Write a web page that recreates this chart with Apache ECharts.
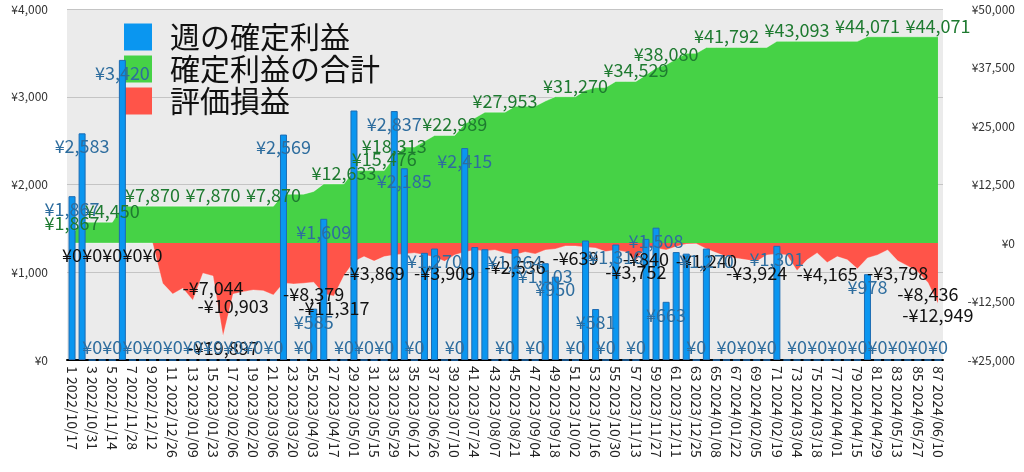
<!DOCTYPE html>
<html>
<head>
<meta charset="utf-8">
<script src="https://cdn.jsdelivr.net/npm/echarts@6/dist/echarts.min.js"></script>
<style>
html,body{margin:0;padding:0;background:#fff;}
#chart{width:1024px;height:472px;}
</style>
</head>
<body>
<div id="chart"></div>
<script>
// Week start dates (categories)
const weeks = [
"2022/10/17","2022/10/24","2022/10/31","2022/11/07","2022/11/14","2022/11/21","2022/11/28","2022/12/05","2022/12/12","2022/12/19",
"2022/12/26","2023/01/02","2023/01/09","2023/01/16","2023/01/23","2023/01/30","2023/02/06","2023/02/13","2023/02/20","2023/02/27",
"2023/03/06","2023/03/13","2023/03/20","2023/03/27","2023/04/03","2023/04/10","2023/04/17","2023/04/24","2023/05/01","2023/05/08",
"2023/05/15","2023/05/22","2023/05/29","2023/06/05","2023/06/12","2023/06/19","2023/06/26","2023/07/03","2023/07/10","2023/07/17",
"2023/07/24","2023/07/31","2023/08/07","2023/08/14","2023/08/21","2023/08/28","2023/09/04","2023/09/11","2023/09/18","2023/09/25",
"2023/10/02","2023/10/09","2023/10/16","2023/10/23","2023/10/30","2023/11/06","2023/11/13","2023/11/20","2023/11/27","2023/12/04",
"2023/12/11","2023/12/18","2023/12/25","2024/01/01","2024/01/08","2024/01/15","2024/01/22","2024/01/29","2024/02/05","2024/02/12",
"2024/02/19","2024/02/26","2024/03/04","2024/03/11","2024/03/18","2024/03/25","2024/04/01","2024/04/08","2024/04/15","2024/04/22",
"2024/04/29","2024/05/06","2024/05/13","2024/05/20","2024/05/27","2024/06/03","2024/06/10"];

// 週の確定利益 (left axis)
const weeklyProfit = [
1867,2583,0,0,0,3420,0,0,0,0,
0,0,0,0,0,0,0,0,0,0,
0,2569,0,0,585,1609,0,0,2843,0,
0,0,2837,2185,0,1221,1270,0,0,2415,
1287,1262,0,0,1264,0,0,1103,950,0,
0,1362,581,0,1316,0,0,1380,1508,663,
1230,1212,0,1270,0,0,0,0,0,0,
1301,0,0,0,0,0,0,0,0,978,
0,0,0,0,0,0,0];

// 確定利益の合計 (right axis)
const cumulativeProfit = [
1867,4450,4450,4450,4450,7870,7870,7870,7870,7870,
7870,7870,7870,7870,7870,7870,7870,7870,7870,7870,
7870,10439,10439,10439,11024,12633,12633,12633,15476,15476,
15476,15476,18313,20498,20498,21719,22989,22989,22989,25404,
26691,27953,27953,27953,29217,29217,29217,30320,31270,31270,
31270,32632,33213,33213,34529,34529,34529,35909,37417,38080,
39310,40522,40522,41792,41792,41792,41792,41792,41792,41792,
43093,43093,43093,43093,43093,43093,43093,43093,43093,44071,
44071,44071,44071,44071,44071,44071,44071];

// 評価損益 (right axis)
const unrealized = [
0,0,0,0,0,0,0,0,0,-8600,
-10890,-9670,-12210,-6460,-7044,-19897,-10903,-10390,-10030,-10200,
-11100,-8530,-8750,-8600,-8379,-10900,-11317,-7000,-3970,-2900,
-3869,-2900,-2550,-2330,-2120,-2550,-2970,-3909,-2550,-1900,
-1480,-1690,-1480,-2120,-2536,-1900,-2330,-1480,-1260,-620,
-639,-900,-1050,-1840,-1480,-1900,-3752,-840,-1050,-1480,
-770,-200,-150,-1240,-2100,-2900,-3250,-3600,-3924,-2550,
-2330,-2550,-5900,-3600,-2120,-4165,-2900,-3600,-5500,-3200,
-2550,-1480,-3798,-4900,-6200,-8436,-12949];

// Axis ticks
const leftTicks = {min:0, max:4000, interval:1000};
const rightTicks = {min:-25000, max:50000, interval:12500};

// Which points carry a visible value label (1-based week numbers)
const barLabelWeeks = [1,2,3,5,6,7,9,11,13,15,17,19,21,22,24,25,26,28,30,32,33,34,35,37,39,40,44,45,47,48,49,51,53,54,55,57,59,60,63,64,66,68,70,71,73,75,77,79,80,81,83,85,87];
const cumLabelWeeks = [1,5,9,15,21,28,32,33,39,44,51,57,60,66,73,80,87];
const unrLabelWeeks = [1,3,5,7,9,15,16,17,25,27,31,38,45,51,57,58,64,69,76,83,86,87];

const FONT = "'Noto Sans CJK JP', sans-serif";
const yen = v => (v < 0 ? '-' : '') + '¥' + Math.abs(v).toLocaleString('en-US');

const barLabelData = weeklyProfit.map((v, i) => ({
  value: v,
  label: {show: barLabelWeeks.includes(i + 1), position: v === 0 ? 'insideBottom' : 'insideTop'}
}));
const cumLabelData = cumulativeProfit.map((v, i) => ({
  value: v, label: {show: cumLabelWeeks.includes(i + 1)}
}));
const unrLabelData = unrealized.map((v, i) => ({
  value: v, label: {show: unrLabelWeeks.includes(i + 1)}
}));

const labelOnly = {
  type: 'line', yAxisIndex: 1, z: 10, symbol: 'circle', symbolSize: 0,
  showSymbol: true, showAllSymbol: true, silent: true,
  lineStyle: {opacity: 0}, tooltip: {show: false}
};

const chart = echarts.init(document.getElementById('chart'));
chart.setOption({
  animation: false,
  textStyle: {fontFamily: FONT},
  grid: {left: 67, right: 81, top: 9, bottom: 112, show: true, backgroundColor: '#ebebeb', borderWidth: 0},
  legend: {
    orient: 'vertical', left: 119, top: 17,
    itemWidth: 28, itemHeight: 27, itemGap: 2,
    icon: 'rect',
    itemStyle: {borderWidth: 0},
    textStyle: {fontSize: 30, color: '#111', fontFamily: FONT, padding: [0, 0, 0, 13], lineHeight: 30},
    data: ['週の確定利益', '確定利益の合計', '評価損益']
  },
  xAxis: {
    type: 'category', data: weeks, boundaryGap: true,
    axisLine: {lineStyle: {color: '#000', width: 2}},
    axisTick: {show: false},
    axisLabel: {rotate: -90, interval: 1, fontSize: 14, color: '#222', margin: 6,
      formatter: (v, i) => (i + 1) + ' ' + v}
  },
  yAxis: [
    {type: 'value', min: leftTicks.min, max: leftTicks.max, interval: leftTicks.interval,
      axisLine: {show: false}, axisTick: {show: false},
      splitLine: {lineStyle: {color: '#c4c4c4', width: 1}},
      axisLabel: {fontSize: 12, color: '#333', margin: 19, formatter: yen}},
    {type: 'value', min: rightTicks.min, max: rightTicks.max, interval: rightTicks.interval,
      axisLine: {show: false}, axisTick: {show: false}, splitLine: {show: false},
      axisLabel: {fontSize: 12, color: '#333', margin: 72, align: 'right', formatter: yen}}
  ],
  series: [
    {name: '週の確定利益', type: 'bar', yAxisIndex: 0, z: 5, barWidth: 7, data: weeklyProfit,
      itemStyle: {color: '#0a96f0', borderColor: '#1d6cb3', borderWidth: 1}},
    {name: '確定利益の合計', type: 'line', yAxisIndex: 1, z: 2, data: cumulativeProfit,
      symbol: 'none', showSymbol: false,
      lineStyle: {width: 1, color: 'rgba(255,255,255,0.45)'},
      itemStyle: {color: '#46d246'},
      areaStyle: {color: '#46d246', opacity: 1}},
    {name: '評価損益', type: 'line', yAxisIndex: 1, z: 2, data: unrealized,
      symbol: 'none', showSymbol: false,
      lineStyle: {width: 1, color: 'rgba(255,255,255,0.3)'},
      itemStyle: {color: '#ff5449'},
      areaStyle: {color: '#ff5449', opacity: 1}},
    {name: 'barLabels', type: 'bar', yAxisIndex: 0, z: 11, barWidth: 7, barGap: '-100%',
      data: barLabelData, silent: true, tooltip: {show: false},
      itemStyle: {color: 'rgba(0,0,0,0)'},
      label: {fontSize: 18, color: '#2e6d9e', distance: 4, formatter: p => yen(p.value)}},
    Object.assign({}, labelOnly, {name: 'cumLabels', data: cumLabelData,
      itemStyle: {color: '#46d246'},
      label: {position: 'top', distance: 2, fontSize: 18, color: '#1e7a30', formatter: p => yen(p.value)}}),
    Object.assign({}, labelOnly, {name: 'unrLabels', data: unrLabelData,
      itemStyle: {color: '#ff5449'},
      label: {position: 'bottom', distance: 3, fontSize: 18, color: '#111', formatter: p => yen(p.value)}})
  ]
});
</script>
</body>
</html>
